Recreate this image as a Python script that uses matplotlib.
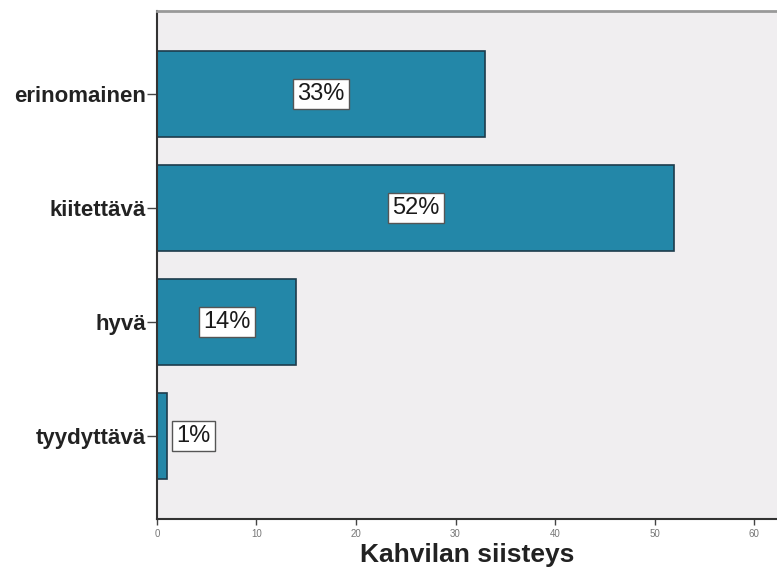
import matplotlib.pyplot as plt
import numpy as np

plt.rcParams['font.family'] = ['Liberation Sans', 'DejaVu Sans']

# share of answers per rating, percent
categories = ["erinomainen", "kiitettävä", "hyvä", "tyydyttävä"]
values = [33, 52, 14, 1]
xticks = [0, 10, 20, 30, 40, 50, 60]

bar_color = "#2387a8"
edge_color = "#1d3c4c"
bg_color = "#f0eef0"

fig = plt.figure(figsize=(7.77, 5.72), dpi=100)
ax = fig.add_axes([0.202, 0.0927, 0.798, 0.888])
ax.set_facecolor(bg_color)

y = np.arange(len(categories))
ax.barh(y, values, height=0.75, color=bar_color, edgecolor=edge_color, linewidth=1.2)

for yi, v in zip(y, values):
    # labels sit in the middle of the bar, small ones just outside it
    xpos = v / 2 if v > 5 else v + 2.7
    ax.text(xpos, yi, "%d%%" % v, ha="center", va="center", fontsize=17,
            color="#1a1a1a",
            bbox=dict(facecolor="white", edgecolor="#555555", linewidth=1.0,
                      boxstyle="square,pad=0.18"))

ax.set_ylim(3.73, -0.73)
ax.set_xlim(0, 62.3)
ax.set_yticks(y)
ax.set_yticklabels(categories, fontsize=16, fontweight="bold", color="#222222")
ax.set_xticks(xticks)
ax.set_xticklabels([str(t) for t in xticks], fontsize=7, color="#777777")
ax.tick_params(axis="y", length=7, width=1, color="#444444", pad=1)
ax.tick_params(axis="x", length=4, width=1, color="#444444", pad=3)

ax.spines["right"].set_visible(False)
ax.spines["top"].set_color("#999999")
ax.spines["top"].set_linewidth(2)
ax.spines["left"].set_color("#333333")
ax.spines["left"].set_linewidth(1.5)
ax.spines["bottom"].set_color("#333333")
ax.spines["bottom"].set_linewidth(1.5)

ax.set_xlabel("Kahvilan siisteys", fontsize=19, fontweight="bold",
              color="#222222", labelpad=3)

fig.savefig("out.png", dpi=100, facecolor="white")
